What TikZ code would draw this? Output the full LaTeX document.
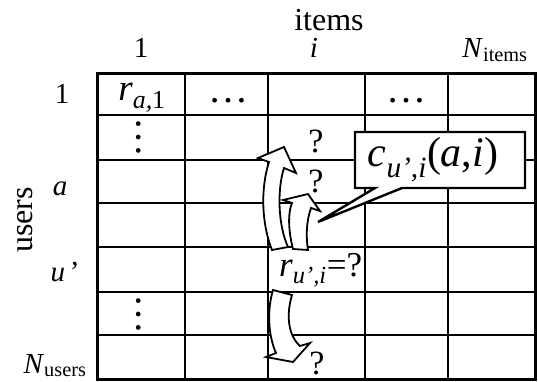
\documentclass[tikz,border=0pt]{standalone}
\usepackage{fontspec}
\setmainfont{Liberation Serif}
\begin{document}
\begin{tikzpicture}[x=1pt,y=-1pt,
  gridline/.style={line width=2.5pt},
  border/.style={line width=3pt},
  lbl/.style={inner sep=0pt, font=\fontsize{29}{33}\selectfont},
  big/.style={inner sep=0pt, font=\fontsize{32}{36}\selectfont},
  cell/.style={inner sep=0pt, font=\fontsize{37}{42}\selectfont},
  dotsty/.style={inner sep=0pt, font=\fontsize{40}{44}\selectfont},
  qm/.style={inner sep=0pt, font=\fontsize{34}{38}\selectfont},
  blockarrow/.style={draw, fill=white, line width=1.8pt, line join=miter},
  callout/.style={draw, fill=white, line width=2.4pt, line join=miter}]
\useasboundingbox (0,0) rectangle (538,381);
% grid
\foreach \x in {185,268,365,448} \draw[gridline] (\x,73) -- (\x,379);
\foreach \y in {115,160,203,247,292,335} \draw[gridline] (97,\y) -- (535,\y);
\draw[border] (97,73) rectangle (535,379);
% header labels
\node[big, anchor=base] (items) at (329,30) {items};
\node[lbl, anchor=base] (c1) at (141,57) {1};
\node[lbl, anchor=base] (ci) at (314,57) {\textit{i}};
\node[lbl, anchor=base] (cN) at (495,57) {\textit{N}\textsubscript{items}};
% row labels
\node[big, rotate=90] (users) at (25,220) {users};
\node[lbl, anchor=base] (r1) at (62,103) {1};
\node[lbl, anchor=base] (ra) at (60,195) {\textit{a}};
\node[lbl, anchor=base] (ru) at (65,281) {\textit{u}\,\textquoteright};
\node[lbl, anchor=base] (rN) at (55,373) {\textit{N}\textsubscript{users}};
% cell contents
\node[cell, anchor=base] (ra1) at (142,100) {\textit{r}\textsubscript{\itshape a,\upshape 1}};
\node[dotsty, anchor=base] (d1) at (228,102) {…};
\node[dotsty, anchor=base] (d2) at (406,102) {…};
\node[dotsty, rotate=90] (v1) at (139,137) {…};
\node[dotsty, rotate=90] (v2) at (139,314) {…};
\node[qm] (q1) at (316,141) {?};
\node[qm] (q2) at (316,181) {?};
\node[qm] (q3) at (317,363) {?};
% arrows
\draw[blockarrow] (272,250) .. controls (262,225) and (260,190) .. (269,162)
  -- (258,158) -- (284,147) -- (296,173) -- (284,168)
  .. controls (277,190) and (278,225) .. (288,247) -- cycle;
\draw[blockarrow] (293,249) .. controls (288,230) and (288,212) .. (292,203)
  -- (283,200) -- (308,194) -- (320,211) -- (311,208)
  .. controls (306,222) and (306,238) .. (308,250) -- cycle;
\draw[blockarrow] (273,290) -- (292,295) .. controls (286,315) and (288,335) .. (300,346)
  -- (310,343) -- (293,362) -- (266,357) -- (276,353)
  .. controls (268,335) and (267,310) .. (273,290) -- cycle;
\node[inner sep=0pt, font=\fontsize{35}{40}\selectfont, anchor=base west] (rui) at (279,276) {\textit{r}\textsubscript{\itshape u\textquoteright,i}=?};
% callout
\draw[callout] (355,132) -- (525,132) -- (525,188) -- (402,188) -- (318,222) -- (375,188) -- (355,188) -- cycle;
\node[inner sep=0pt, font=\fontsize{42}{46}\selectfont] (cui) at (433,160) {\textit{c}\textsubscript{\itshape u\textquoteright,i}(\textit{a},\textit{i})};
\end{tikzpicture}
\end{document}
